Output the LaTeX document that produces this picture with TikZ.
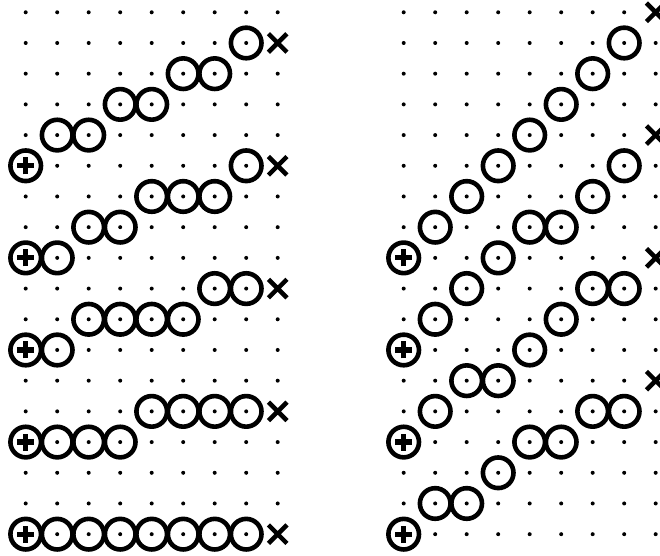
\documentclass[tikz,border=0pt]{standalone}
\usetikzlibrary{shapes.misc}
\tikzset{
  gridpt/.style={black},
  ring/.style={circle,draw,line width=4.6pt,minimum size=30.6pt,inner sep=0pt},
  plusring/.style={ring,path picture={
      \draw[line width=5.2pt] ([xshift=-8.5pt]path picture bounding box.center)--([xshift=8.5pt]path picture bounding box.center);
      \draw[line width=5.2pt] ([yshift=-8.5pt]path picture bounding box.center)--([yshift=8.5pt]path picture bounding box.center);}},
  xmark/.style={cross out,draw,line width=4.5pt,minimum size=14pt,inner sep=0pt},
}

\begin{document}
\begin{tikzpicture}[x=31.5pt,y=-30.7pt]
  \useasboundingbox (-0.816,-0.4) rectangle (20.137,17.71);
  % dot grid, both panels
  \foreach \c in {0,...,8,12,13,...,20}
    \foreach \r in {0,...,17}
      \fill[gridpt] (\c,\r) circle (2pt);
  % left panel
  \node[plusring] (a0) at (0,5) {};
  \foreach \c/\r [count=\i] in {1/4,2/4,3/3,4/3,5/2,6/2,7/1}
    \node[ring] (a\i) at (\c,\r) {};
  \node[xmark] (ax) at (8,1) {};
  \node[plusring] (b0) at (0,8) {};
  \foreach \c/\r [count=\i] in {1/8,2/7,3/7,4/6,5/6,6/6,7/5}
    \node[ring] (b\i) at (\c,\r) {};
  \node[xmark] (bx) at (8,5) {};
  \node[plusring] (c0) at (0,11) {};
  \foreach \c/\r [count=\i] in {1/11,2/10,3/10,4/10,5/10,6/9,7/9}
    \node[ring] (c\i) at (\c,\r) {};
  \node[xmark] (cx) at (8,9) {};
  \node[plusring] (d0) at (0,14) {};
  \foreach \c/\r [count=\i] in {1/14,2/14,3/14,4/13,5/13,6/13,7/13}
    \node[ring] (d\i) at (\c,\r) {};
  \node[xmark] (dx) at (8,13) {};
  \node[plusring] (e0) at (0,17) {};
  \foreach \c [count=\i] in {1,...,7}
    \node[ring] (e\i) at (\c,17) {};
  \node[xmark] (ex) at (8,17) {};
  % right panel
  \node[plusring] (f0) at (12,8) {};
  \foreach \c/\r [count=\i] in {13/7,14/6,15/5,16/4,17/3,18/2,19/1}
    \node[ring] (f\i) at (\c,\r) {};
  \node[xmark] (fx) at (20,0) {};
  \node[plusring] (g0) at (12,11) {};
  \foreach \c/\r [count=\i] in {13/10,14/9,15/8,16/7,17/7,18/6,19/5}
    \node[ring] (g\i) at (\c,\r) {};
  \node[xmark] (gx) at (20,4) {};
  \node[plusring] (h0) at (12,14) {};
  \foreach \c/\r [count=\i] in {13/13,14/12,15/12,16/11,17/10,18/9,19/9}
    \node[ring] (h\i) at (\c,\r) {};
  \node[xmark] (hx) at (20,8) {};
  \node[plusring] (k0) at (12,17) {};
  \foreach \c/\r [count=\i] in {13/16,14/16,15/15,16/14,17/14,18/13,19/13}
    \node[ring] (k\i) at (\c,\r) {};
  \node[xmark] (kx) at (20,12) {};
\end{tikzpicture}
\end{document}
